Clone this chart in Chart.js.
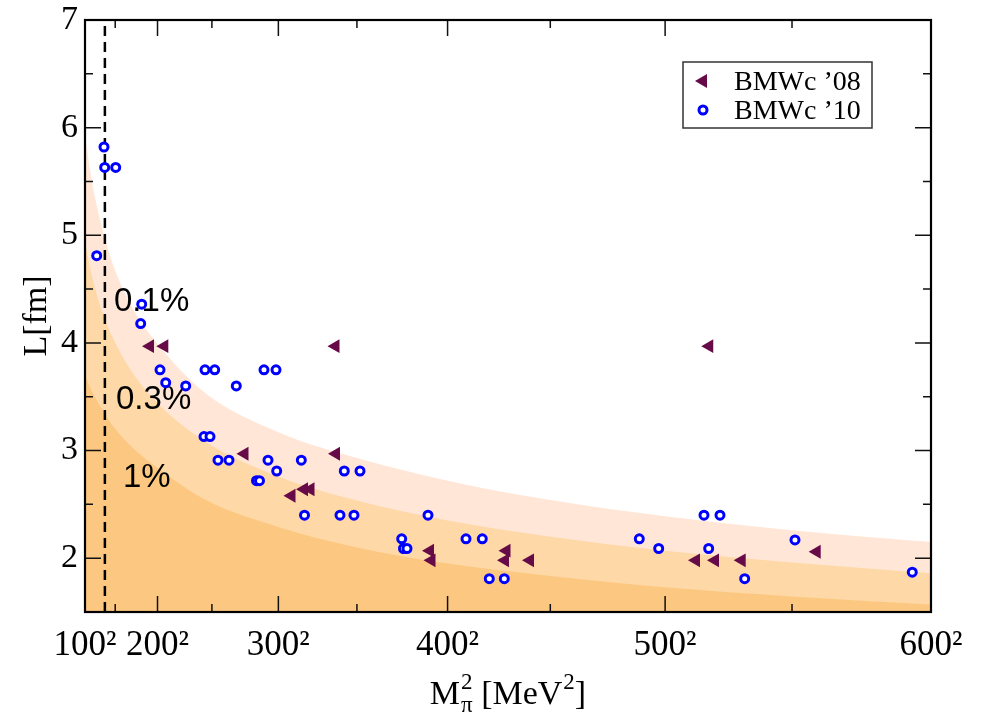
<!DOCTYPE html>
<html><head><meta charset="utf-8">
<script src="https://cdn.jsdelivr.net/npm/chart.js@4.4.0/dist/chart.umd.min.js"></script>
<style>html,body{margin:0;padding:0;background:#fff;}#wrap{width:982px;height:720px;}</style>
</head><body><div id="wrap"><canvas id="c" width="982" height="720"></canvas></div>
<script>
// ---- axis ticks ----
const xTickValues = [10000, 40000, 90000, 160000, 250000, 360000];
const xTickLabels = ['100²', '200²', '300²', '400²', '500²', '600²'];
const xMinorTicks = [22500, 62500, 122500, 202500, 302500];
const yTickValues = [2, 3, 4, 5, 6, 7];
const yMinorTicks = [2.5, 3.5, 4.5, 5.5, 6.5];
const physicalPionM2 = [18225, 18225];
const physicalLineL = [1.5, 7];

// ---- finite-volume bands (M_pi^2 in MeV^2, L in fm) ----
const bandX  = [10000, 12500, 15000, 18225, 22500, 30000, 40000, 60000, 90000, 122500, 160000, 202500, 250000, 302500, 360000];
const band01 = [5.93, 5.55, 5.26, 4.97, 4.67, 4.31, 3.99, 3.53, 3.17, 2.93, 2.72, 2.54, 2.39, 2.26, 2.15];
const band03 = [4.93, 4.66, 4.44, 4.22, 4.00, 3.71, 3.44, 3.08, 2.76, 2.535, 2.35, 2.20, 2.07, 1.96, 1.86];
const band1  = [3.70, 3.57, 3.46, 3.34, 3.20, 3.02, 2.84, 2.54, 2.29, 2.10, 1.95, 1.835, 1.73, 1.645, 1.57];
const bandLabels = ['0.1%', '0.3%', '1%'];
const bandLabelX = [22000, 22830, 25720];
const bandLabelY = [4.30, 3.39, 2.66];

// ---- BMWc '08 ----
const bmw08M2 = [36890, 42810, 113630, 75990, 113840, 95430, 100600, 103290, 152730, 153350, 184380, 183750, 194100, 262770, 270630, 281680, 268270, 312700];
const bmw08L  = [3.97, 3.97, 3.97, 2.97, 2.97, 2.58, 2.64, 2.64, 2.07, 1.98, 2.07, 1.98, 1.98, 1.98, 1.98, 1.98, 3.97, 2.06];

// ---- BMWc '10 ----
const bmw10M2 = [17860, 18150, 22700, 14840, 33460, 33040, 41030, 43390, 51660, 59640, 63660, 72590, 84050, 89020, 59230, 61710, 65020, 69570, 85710, 89310, 80950, 82190, 99490, 100810, 117270, 123770, 115490, 121280, 151900, 141020, 141760, 143210, 167620, 174360, 177260, 183470, 239320, 247340, 266080, 272700, 268020, 282920, 303730, 352250];
const bmw10L  = [5.82, 5.63, 5.63, 4.81, 4.36, 4.18, 3.75, 3.63, 3.60, 3.75, 3.75, 3.60, 3.75, 3.75, 3.13, 3.13, 2.91, 2.91, 2.91, 2.81, 2.72, 2.72, 2.91, 2.40, 2.81, 2.81, 2.40, 2.40, 2.40, 2.18, 2.09, 2.09, 2.18, 2.18, 1.81, 1.81, 2.18, 2.09, 2.40, 2.40, 2.09, 1.81, 2.17, 1.87];

const seriesNames = ['BMWc ’08', 'BMWc ’10'];
const COL08 = '#660a48', COL10 = '#0000ff';
const SERIF = "'Liberation Serif', 'Times New Roman', serif";
const SANS = "'Liberation Sans', Arial, sans-serif";
const TRI_R = 8, CIRC_R = 4, CIRC_W = 3;

const pts = (xs, ys) => xs.map((x, i) => ({ x: x, y: ys[i] }));

function bandDataset(label, ys, color, order) {
  return { type: 'line', label: label, data: pts(bandX, ys), fill: 'start', backgroundColor: color,
    borderWidth: 0, borderColor: color, pointRadius: 0, cubicInterpolationMode: 'monotone', order: order };
}

const labelPlugin = {
  id: 'bandLabels',
  afterDatasetDraw(chart, args) {
    if (args.index !== 2) return;
    const { ctx, scales: { x, y } } = chart;
    ctx.save();
    ctx.fillStyle = '#000';
    ctx.font = '33px ' + SANS;
    ctx.textAlign = 'left';
    ctx.textBaseline = 'alphabetic';
    bandLabels.forEach((t, i) => ctx.fillText(t, x.getPixelForValue(bandLabelX[i]), y.getPixelForValue(bandLabelY[i])));
    ctx.restore();
  }
};

const framePlugin = {
  id: 'frame',
  afterDatasetsDraw(chart) {
    const { ctx, chartArea: a, scales: { x, y } } = chart;
    ctx.save();
    ctx.strokeStyle = '#111';
    ctx.lineWidth = 1.5;
    ctx.beginPath();
    const xt = (v, len) => { const p = x.getPixelForValue(v);
      ctx.moveTo(p, a.bottom); ctx.lineTo(p, a.bottom - len);
      ctx.moveTo(p, a.top); ctx.lineTo(p, a.top + len); };
    const yt = (v, len) => { const p = y.getPixelForValue(v);
      ctx.moveTo(a.left, p); ctx.lineTo(a.left + len, p);
      ctx.moveTo(a.right, p); ctx.lineTo(a.right - len, p); };
    xTickValues.forEach(v => xt(v, 16));
    xMinorTicks.forEach(v => xt(v, 8));
    yTickValues.forEach(v => yt(v, 16));
    yMinorTicks.forEach(v => yt(v, 8));
    ctx.stroke();
    ctx.lineWidth = 2.2;
    ctx.strokeStyle = '#000';
    ctx.strokeRect(a.left, a.top, a.right - a.left, a.bottom - a.top);
    ctx.restore();
  },
  afterDraw(chart) {
    const { ctx, chartArea: a } = chart;
    ctx.save();
    ctx.fillStyle = '#000';
    // y title
    ctx.translate(37, (a.top + a.bottom) / 2);
    ctx.rotate(-Math.PI / 2);
    ctx.font = '34px ' + SERIF;
    ctx.textAlign = 'center';
    ctx.textBaseline = 'middle';
    ctx.fillText('L[fm]', 0, 0);
    ctx.restore();

    // x title: M^2_pi [MeV^2]
    ctx.save();
    ctx.fillStyle = '#000';
    ctx.textAlign = 'left';
    ctx.textBaseline = 'alphabetic';
    const big = '34px ' + SERIF, small = '23px ' + SERIF;
    ctx.font = big; const wM = ctx.measureText('M').width;
    const wMid = ctx.measureText(' [MeV').width, wEnd = ctx.measureText(']').width;
    ctx.font = small; const wS = Math.max(ctx.measureText('2').width, ctx.measureText('π').width);
    const w2 = ctx.measureText('2').width;
    const total = wM + wS + wMid + w2 + wEnd + 2;
    let cx = (a.left + a.right) / 2 - total / 2;
    const base = 704;
    ctx.font = big; ctx.fillText('M', cx, base); cx += wM + 1;
    ctx.font = small; ctx.fillText('2', cx, base - 15); ctx.fillText('π', cx, base + 8); cx += wS;
    ctx.font = big; ctx.fillText(' [MeV', cx, base); cx += wMid + 1;
    ctx.font = small; ctx.fillText('2', cx, base - 15); cx += w2;
    ctx.font = big; ctx.fillText(']', cx, base);
    ctx.restore();

    // legend
    ctx.save();
    ctx.fillStyle = '#fff';
    ctx.fillRect(683, 62, 189, 66);
    ctx.strokeStyle = '#333';
    ctx.lineWidth = 1.5;
    ctx.strokeRect(683, 62, 189, 66);
    const tx = 703, ty = 81;
    ctx.fillStyle = COL08;
    ctx.beginPath();
    for (let k = 0; k < 3; k++) {
      const ang = (270 + k * 120) * Math.PI / 180;
      const px = tx + Math.sin(ang) * TRI_R, py = ty - Math.cos(ang) * TRI_R;
      if (k === 0) ctx.moveTo(px, py); else ctx.lineTo(px, py);
    }
    ctx.closePath(); ctx.fill();
    ctx.beginPath(); ctx.arc(703, 110, CIRC_R, 0, Math.PI * 2);
    ctx.fillStyle = '#fff'; ctx.fill();
    ctx.lineWidth = CIRC_W; ctx.strokeStyle = COL10; ctx.stroke();
    ctx.fillStyle = '#000';
    ctx.font = '28px ' + SERIF;
    ctx.textAlign = 'left'; ctx.textBaseline = 'alphabetic';
    ctx.fillText(seriesNames[0], 734, 90);
    ctx.fillText(seriesNames[1], 734, 119);
    ctx.restore();
  }
};

new Chart(document.getElementById('c'), {
  type: 'scatter',
  data: {
    datasets: [
      bandDataset('0.1%', band01, '#ffe6d6', 10),
      bandDataset('0.3%', band03, '#fed8a6', 9),
      bandDataset('1%', band1, '#fcc881', 8),
      { type: 'line', label: 'M_pi phys', data: pts(physicalPionM2, physicalLineL), borderColor: '#000',
        borderWidth: 2.5, borderDash: [10, 6], pointRadius: 0, fill: false, order: 5 },
      { type: 'scatter', label: seriesNames[0], data: pts(bmw08M2, bmw08L), pointStyle: 'triangle',
        pointRotation: 270, pointRadius: TRI_R, backgroundColor: COL08, borderColor: COL08, borderWidth: 0, order: 2 },
      { type: 'scatter', label: seriesNames[1], data: pts(bmw10M2, bmw10L), pointStyle: 'circle',
        pointRadius: CIRC_R, borderWidth: CIRC_W, borderColor: COL10, backgroundColor: '#ffffff', order: 1 }
    ]
  },
  options: {
    responsive: false, animation: false, devicePixelRatio: 1, events: [],
    layout: { padding: { top: 20, right: 51, left: 0, bottom: 0 } },
    plugins: { legend: { display: false }, tooltip: { enabled: false } },
    scales: {
      x: {
        type: 'linear', min: 10000, max: 360000,
        grid: { display: false, drawTicks: false }, border: { display: false },
        afterBuildTicks: s => { s.ticks = xTickValues.map(v => ({ value: v })); },
        afterFit: s => { s.height = 108; s.paddingLeft = 0; s.paddingRight = 0; },
        ticks: { autoSkip: false, maxRotation: 0, minRotation: 0, padding: 13, color: '#000',
          font: { family: SERIF, size: 35 },
          callback: v => { const i = xTickValues.indexOf(v); return i >= 0 ? xTickLabels[i] : ''; } }
      },
      y: {
        type: 'linear', min: 1.5, max: 7,
        grid: { display: false, drawTicks: false }, border: { display: false },
        afterBuildTicks: s => { s.ticks = yTickValues.map(v => ({ value: v })); },
        afterFit: s => { s.width = 85; s.paddingTop = 0; s.paddingBottom = 0; },
        ticks: { autoSkip: false, padding: 7, color: '#000', font: { family: SERIF, size: 34 },
          callback: v => String(v) }
      }
    }
  },
  plugins: [labelPlugin, framePlugin]
});
</script></body></html>
